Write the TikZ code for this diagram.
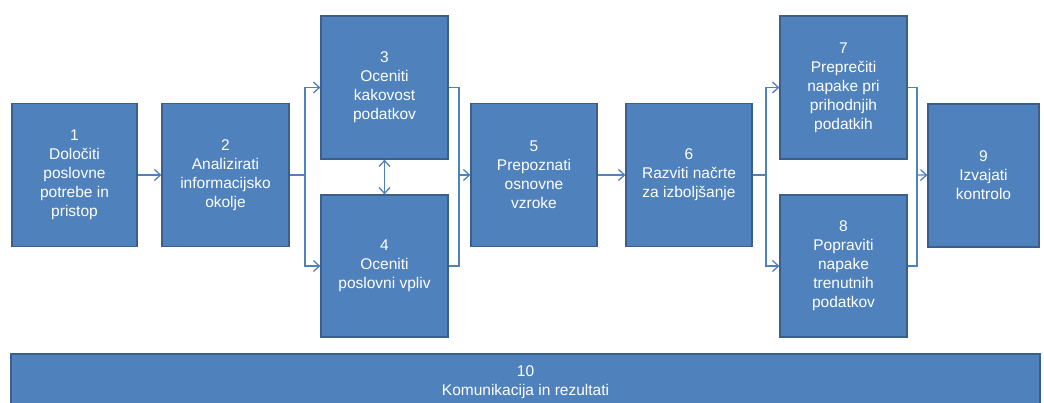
\documentclass[tikz,border=0pt]{standalone}
\usepackage{fontspec}
\setmainfont{Liberation Sans}
\usepackage{xcolor}
\usetikzlibrary{arrows.meta,calc}
\definecolor{boxfill}{HTML}{4F81BD}
\definecolor{boxline}{HTML}{3A5F8B}

\begin{document}
\begin{tikzpicture}[x=1pt,y=-1pt,
	box/.style={draw=boxline,line width=1.2pt,fill=boxfill,text=white,align=center,
		minimum width=127pt,minimum height=143pt,inner sep=0pt,
		font=\fontsize{15.5}{19}\selectfont},
	link/.style={draw=boxfill,line width=1.3pt},
	tip/.style={-{Straight Barb[length=6pt,width=11pt]}},
	twotip/.style={{Straight Barb[length=6pt,width=11pt]}-{Straight Barb[length=6pt,width=11pt]}}]
	\useasboundingbox (0,0) rectangle (1044,402);
	\clip (0,0) rectangle (1044,402);
	% boxes
	\node[box,minimum width=125pt] (b1) at (74.5,175) {1\\Določiti\\poslovne\\potrebe in\\pristop};
	\node[box] (b2) at (225.5,175) {2\\Analizirati\\informacijsko\\okolje};
	\node[box] (b3) at (384.5,87.5) {3\\Oceniti\\kakovost\\podatkov};
	\node[box,minimum height=142pt] (b4) at (384.5,266) {4\\Oceniti\\poslovni vpliv};
	\node[box,minimum width=126pt] (b5) at (534,175) {5\\Prepoznati\\osnovne\\vzroke};
	\node[box,minimum width=126pt] (b6) at (689,175) {6\\Razviti načrte\\za izboljšanje};
	\node[box] (b7) at (843.5,87.5) {7\\Preprečiti\\napake pri\\prihodnjih\\podatkih};
	\node[box,minimum height=142pt] (b8) at (843.5,266) {8\\Popraviti\\napake\\trenutnih\\podatkov};
	\node[box,minimum width=111pt] (b9) at (983.5,175.5) {9\\Izvajati\\kontrolo};
	\node[box,minimum width=1029pt,minimum height=56pt] (b10) at (525.5,382) {10\\Komunikacija  in rezultati};
	% junctions
	\coordinate (j1) at (305,175);
	\coordinate (j2) at (459,175);
	\coordinate (j3) at (766,175);
	\coordinate (j4) at (917,175);
	% connectors
	\draw[link,tip] (b1) -- (b2);
	\draw[link] (b2) -- (j1);
	\draw[link,tip] (j1) |- (b3);
	\draw[link,tip] (j1) |- (b4);
	\draw[link,twotip] (b3) -- (b4);
	\draw[link] (b3) -| (j2);
	\draw[link] (b4) -| (j2);
	\draw[link,tip] (j2) -- (b5);
	\draw[link,tip] (b5) -- (b6);
	\draw[link] (b6) -- (j3);
	\draw[link,tip] (j3) |- (b7);
	\draw[link,tip] (j3) |- (b8);
	\draw[link] (b7) -| (j4);
	\draw[link] (b8) -| (j4);
	\draw[link,tip] (j4) -- (b9);
\end{tikzpicture}
\end{document}
